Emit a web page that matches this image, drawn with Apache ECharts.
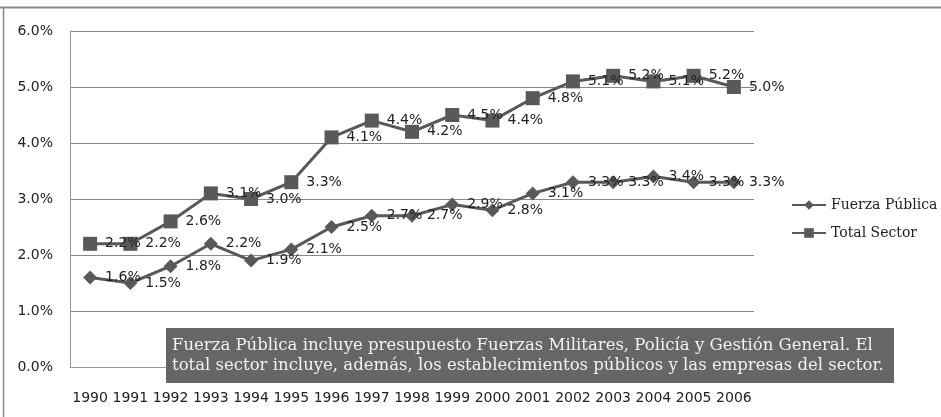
<!doctype html>
<html lang="es">
<head>
    <meta charset="UTF-8">
    <title>Gasto Fuerza Pública y Total Sector</title>
    <style>
        html, body { margin: 0; padding: 0; background: #fff; }
        #main { width: 941px; height: 417px; }
    </style>
</head>
<body>
<div id="main"></div>
<script type="text/javascript" src="https://cdn.jsdelivr.net/npm/echarts@6/dist/echarts.min.js"></script>
<script type="text/javascript">
    // datos (% del PIB)
    let years = ['1990', '1991', '1992', '1993', '1994', '1995', '1996', '1997', '1998',
        '1999', '2000', '2001', '2002', '2003', '2004', '2005', '2006'];
    let fuerzaPublica = [1.6, 1.5, 1.8, 2.2, 1.9, 2.1, 2.5, 2.7, 2.7, 2.9, 2.8, 3.1, 3.3, 3.3, 3.4, 3.3, 3.3];
    let totalSector = [2.2, 2.2, 2.6, 3.1, 3.0, 3.3, 4.1, 4.4, 4.2, 4.5, 4.4, 4.8, 5.1, 5.2, 5.1, 5.2, 5.0];
    let seriesNames = ['Fuerza Pública', 'Total Sector'];
    let nota = ['Fuerza Pública incluye presupuesto Fuerzas Militares, Policía y Gestión General. El',
        'total sector incluye, además, los establecimientos públicos y las empresas del sector.'];

    let myChart = echarts.init(document.getElementById('main'));
    let lineColor = '#595959';
    let labelStyle = {
        show: true,
        position: 'right',
        distance: 8,
        color: '#222',
        fontFamily: 'DejaVu Sans',
        fontSize: 14,
        formatter: function (p) { return p.value.toFixed(1) + '%'; }
    };

    let option = {
        animation: false,
        backgroundColor: '#fff',
        grid: { left: 70, right: 187, top: 31, bottom: 50, containLabel: false },
        legend: {
            orient: 'vertical',
            left: 786,
            top: 193,
            itemWidth: 34,
            itemHeight: 12,
            itemGap: 14,
            textStyle: { fontFamily: 'DejaVu Serif', fontSize: 14, color: '#222' },
            data: seriesNames
        },
        xAxis: {
            type: 'category',
            data: years,
            boundaryGap: true,
            axisLine: { lineStyle: { color: '#999' } },
            axisTick: { show: false },
            axisLabel: { color: '#222', fontFamily: 'DejaVu Sans', fontSize: 14, margin: 24, interval: 0 }
        },
        yAxis: {
            type: 'value',
            min: 0,
            max: 6,
            interval: 1,
            axisLine: { show: true, lineStyle: { color: '#999' } },
            axisTick: { show: false },
            splitLine: { lineStyle: { color: '#888' } },
            axisLabel: {
                color: '#222', fontFamily: 'DejaVu Sans', fontSize: 14, margin: 17,
                formatter: function (v) { return v.toFixed(1) + '%'; }
            }
        },
        series: [
            {
                name: seriesNames[0],
                type: 'line',
                data: fuerzaPublica,
                symbol: 'diamond',
                symbolSize: 14,
                lineStyle: { color: lineColor, width: 3 },
                itemStyle: { color: lineColor },
                label: labelStyle
            },
            {
                name: seriesNames[1],
                type: 'line',
                data: totalSector,
                symbol: 'rect',
                symbolSize: 14,
                lineStyle: { color: lineColor, width: 3 },
                itemStyle: { color: lineColor },
                label: labelStyle
            }
        ],
        graphic: [
            { type: 'line', shape: { x1: 0, y1: 7.5, x2: 941, y2: 7.5 }, style: { stroke: '#888', lineWidth: 2 } },
            { type: 'line', shape: { x1: 3.5, y1: 7, x2: 3.5, y2: 417 }, style: { stroke: '#888', lineWidth: 1.5 } },
            {
                type: 'group',
                left: 166,
                top: 328,
                z: 100,
                children: [
                    { type: 'rect', z: 100, shape: { x: 0, y: 0, width: 728, height: 55 }, style: { fill: '#666' } },
                    {
                        type: 'text', z: 101, x: 6, y: 8,
                        style: {
                            text: nota.join('\n'),
                            fill: '#f2f2f2',
                            font: '16.5px "DejaVu Serif"',
                            lineHeight: 20
                        }
                    }
                ]
            }
        ]
    };
    myChart.setOption(option);
</script>
</body>
</html>
